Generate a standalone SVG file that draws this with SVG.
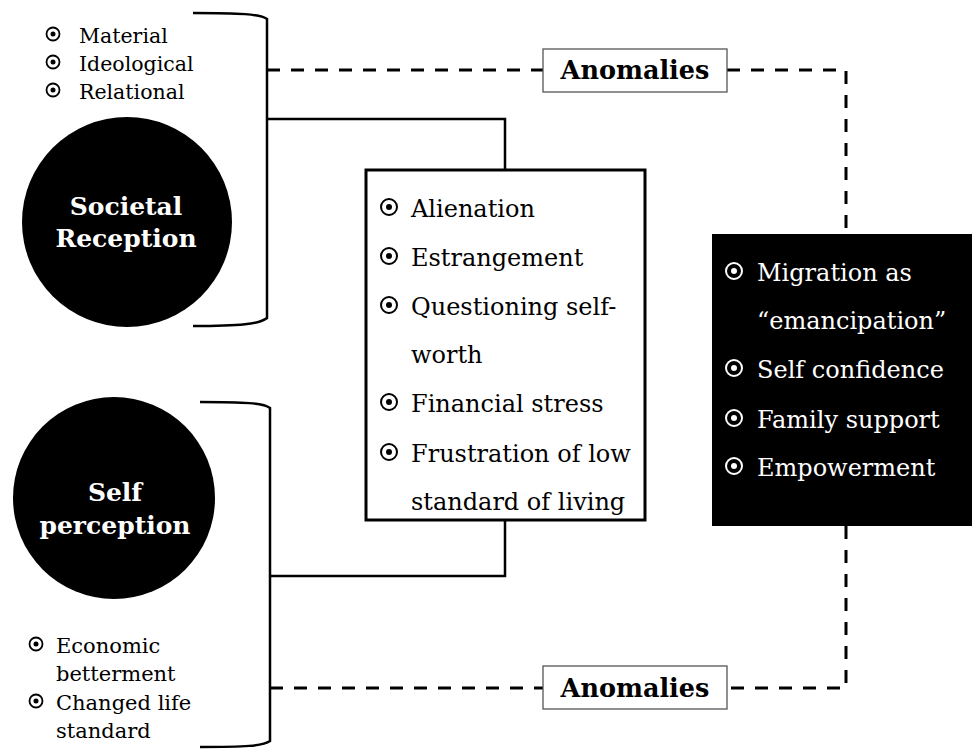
<svg xmlns="http://www.w3.org/2000/svg" xmlns:xlink="http://www.w3.org/1999/xlink" width="972" height="750" viewBox="0 0 972 750">
<style>
text{font-family:"DejaVu Serif","Liberation Serif",serif;}
.t{font-size:24px;fill:#000;}
.tw{font-size:24px;fill:#fff;}
.s{font-size:20.5px;fill:#000;}
.s2{font-size:21px;fill:#000;}
.cl{font-size:25px;font-weight:bold;fill:#fff;text-anchor:middle;}
.an{font-size:25.5px;font-weight:bold;fill:#000;text-anchor:middle;}
.solid{fill:none;stroke:#000;stroke-width:2.5;}
.dash{fill:none;stroke:#000;stroke-width:3;stroke-dasharray:13 11;}
</style>
<defs>
<g id="bk"><circle r="8" fill="none" stroke="#000" stroke-width="2"/><circle r="3" fill="#000"/></g>
<g id="bw"><circle r="8" fill="none" stroke="#fff" stroke-width="2"/><circle r="3" fill="#fff"/></g>
<g id="bs"><circle r="6.5" fill="none" stroke="#000" stroke-width="1.8"/><circle r="2.5" fill="#000"/></g>
</defs>
<rect width="972" height="750" fill="#fff"/>

<g id="connectors">
<path class="solid" d="M193,13 C240,13 260,14 267,19 L267,318 C260,324 240,326 193,326"/>
<path class="solid" d="M200,402 C245,402 263,403 270,408 L270,741 C263,746 245,747 200,747"/>
<path class="solid" d="M267,119 H505 V170"/>
<path class="solid" d="M505,520 V576 H270"/>
<path class="dash" d="M267,70 H543"/>
<path class="dash" d="M727,70 H846 V234"/>
<path class="dash" d="M846,526 V688 H727"/>
<path class="dash" d="M270,688 H543"/>
</g>

<g id="societal-list">
<use xlink:href="#bs" x="53" y="34"/>
<text class="s" x="79" y="43">Material</text>
<use xlink:href="#bs" x="53" y="62"/>
<text class="s" x="79" y="71">Ideological</text>
<use xlink:href="#bs" x="53" y="90"/>
<text class="s" x="79" y="99">Relational</text>
</g>

<g id="societal-reception">
<circle cx="127" cy="222" r="105" fill="#000"/>
<text class="cl" x="126" y="215">Societal</text>
<text class="cl" x="126" y="247">Reception</text>
</g>

<g id="self-perception">
<circle cx="114" cy="498" r="101" fill="#000"/>
<text class="cl" x="115" y="501">Self</text>
<text class="cl" x="115" y="534">perception</text>
</g>

<g id="self-list">
<use xlink:href="#bs" x="36" y="644"/>
<text class="s2" x="56" y="653">Economic</text>
<text class="s2" x="56" y="681">betterment</text>
<use xlink:href="#bs" x="36" y="701"/>
<text class="s2" x="56" y="710">Changed life</text>
<text class="s2" x="56" y="738">standard</text>
</g>

<g id="anomalies-top">
<rect x="543" y="49" width="184" height="43" fill="#fff" stroke="#555" stroke-width="1.3"/>
<text class="an" x="635" y="79">Anomalies</text>
</g>

<g id="anomalies-bottom">
<rect x="543" y="666" width="184" height="43" fill="#fff" stroke="#555" stroke-width="1.3"/>
<text class="an" x="635" y="697">Anomalies</text>
</g>

<g id="middle-box">
<rect x="366" y="170" width="279" height="350" fill="#fff" stroke="#000" stroke-width="3"/>
<use xlink:href="#bk" x="389" y="207"/>
<text class="t" x="411" y="217">Alienation</text>
<use xlink:href="#bk" x="389" y="256"/>
<text class="t" x="411" y="266">Estrangement</text>
<use xlink:href="#bk" x="389" y="305"/>
<text class="t" x="411" y="315">Questioning self-</text>
<text class="t" x="411" y="363">worth</text>
<use xlink:href="#bk" x="389" y="402"/>
<text class="t" x="411" y="412">Financial stress</text>
<use xlink:href="#bk" x="389" y="452"/>
<text class="t" x="411" y="462">Frustration of low</text>
<text class="t" x="411" y="510">standard of living</text>
</g>

<g id="right-box">
<rect x="712" y="234" width="262" height="292" fill="#000"/>
<use xlink:href="#bw" x="734" y="271"/>
<text class="tw" x="757" y="281">Migration as</text>
<text class="tw" x="757" y="329">“emancipation”</text>
<use xlink:href="#bw" x="734" y="368"/>
<text class="tw" x="757" y="378">Self confidence</text>
<use xlink:href="#bw" x="734" y="418"/>
<text class="tw" x="757" y="428">Family support</text>
<use xlink:href="#bw" x="734" y="466"/>
<text class="tw" x="757" y="476">Empowerment</text>
</g>
</svg>
